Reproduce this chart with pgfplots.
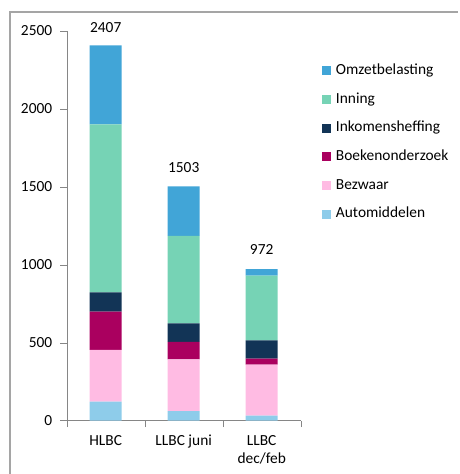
\documentclass[border=0pt]{standalone}
\usepackage{fontspec}
\setmainfont{Carlito}
\usepackage{pgfplots}
\pgfplotsset{compat=1.18}
\definecolor{cOmzet}{RGB}{65,165,215}
\definecolor{cInning}{RGB}{118,211,181}
\definecolor{cInkomen}{RGB}{18,52,86}
\definecolor{cBoeken}{RGB}{170,0,95}
\definecolor{cBezwaar}{RGB}{255,187,227}
\definecolor{cAuto}{RGB}{142,204,234}
\definecolor{axisgray}{RGB}{134,134,134}
\definecolor{framegray}{RGB}{165,165,165}
\begin{document}
\begin{tikzpicture}[x=1pt,y=1pt]
\useasboundingbox (0,0) rectangle (459,474);
\draw[framegray, line width=1.3pt] (10,0) -- (10,462) -- (458,462);
\begin{axis}[
  at={(66.7pt,53.3pt)}, anchor=south west,
  scale only axis, width=234pt, height=389.7pt,
  xmin=-0.5, xmax=2.5, ymin=0, ymax=2500,
  clip=false,
  ybar stacked, bar width=32pt,
  axis lines=left,
  axis line style={-, draw=axisgray},
  xtick={0,1,2},
  xticklabels={HLBC, LLBC juni, {LLBC\\dec/feb}},
  minor xtick={-0.5,0.5,1.5,2.5},
  ytick={0,500,...,2500},
  tick align=outside,
  major tick length=6.5pt, minor tick length=6.5pt,
  major x tick style={draw=none},
  every tick/.style={draw=axisgray},
  minor tick style={draw=axisgray},
  font=\fontsize{15.4}{18.5}\selectfont,
  /pgf/number format/assume math mode=true,
  /pgf/number format/1000 sep={},
  xticklabel style={align=center, inner sep=0pt, anchor=north, yshift=-8pt},
  yticklabel style={inner sep=0pt, anchor=east, xshift=-7.8pt},
  reverse legend,
  legend image code/.code={\fill[#1,draw=none] (0pt,-4.5pt) rectangle (9pt,4.5pt);},
  legend style={at={(1.091,0.9158)}, anchor=north west, draw=none, fill=none,
    inner sep=0pt, outer sep=0pt, row sep=14.7pt, column sep=5pt,
    nodes={inner sep=0pt, text height=10.5pt, text depth=3.5pt},
    font=\fontsize{15.4}{18.5}\selectfont},
  legend cell align=left,
]
\addplot[fill=cAuto, draw=none] coordinates {(0,122) (1,62) (2,32)};
\addlegendentry{Automiddelen}
\addplot[fill=cBezwaar, draw=none] coordinates {(0,333) (1,332) (2,327)};
\addlegendentry{Bezwaar}
\addplot[fill=cBoeken, draw=none] coordinates {(0,244) (1,111) (2,39)};
\addlegendentry{Boekenonderzoek}
\addplot[fill=cInkomen, draw=none] coordinates {(0,124) (1,120) (2,118)};
\addlegendentry{Inkomensheffing}
\addplot[fill=cInning, draw=none] coordinates {(0,1078) (1,560) (2,414)};
\addlegendentry{Inning}
\addplot[fill=cOmzet, draw=none] coordinates {(0,506) (1,318) (2,42)};
\addlegendentry{Omzetbelasting}
\node[anchor=south, inner sep=0pt, yshift=13pt] at (axis cs:0,2407) {2407};
\node[anchor=south, inner sep=0pt, yshift=14pt] at (axis cs:1,1503) {1503};
\node[anchor=south, inner sep=0pt, yshift=14pt] at (axis cs:2,972) {972};
\end{axis}
\end{tikzpicture}
\end{document}
